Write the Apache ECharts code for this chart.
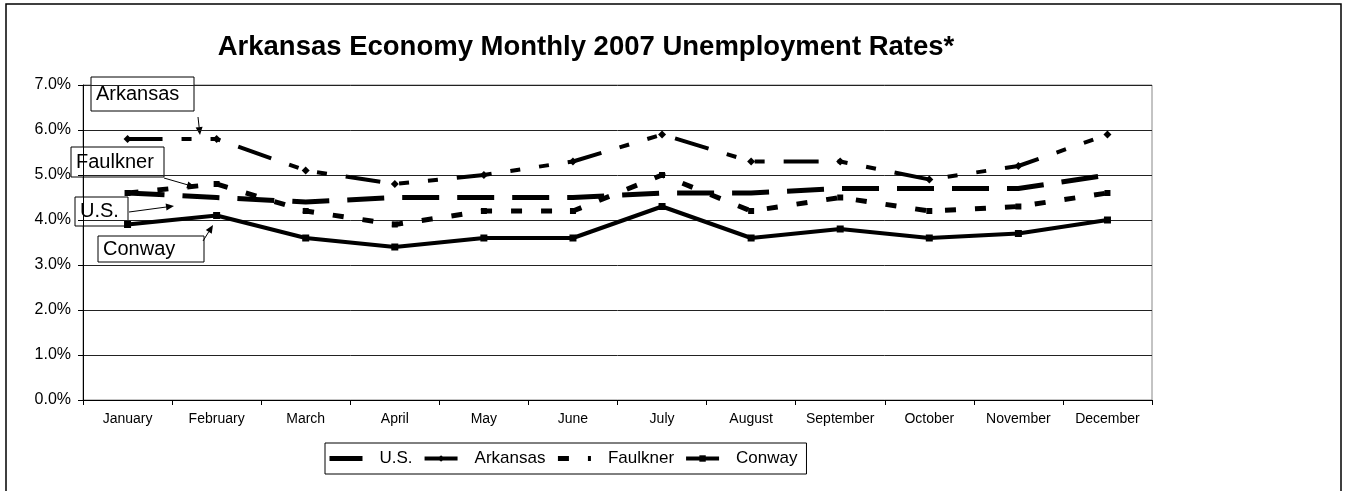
<!DOCTYPE html>
<html lang="en">

<head>
  <meta charset="UTF-8">
  <script src="https://cdn.jsdelivr.net/npm/echarts@6/dist/echarts.min.js"></script>
  <title>Arkansas Economy</title>
  <style>
    html, body { margin: 0; padding: 0; background: #fff; }
    .container { width: 1349px; height: 491px; }
  </style>
</head>

<body>
  <div class="container"></div>

  <script>
    const months = ["January", "February", "March", "April", "May", "June", "July",
      "August", "September", "October", "November", "December"];
    const usRate = [4.6, 4.5, 4.4, 4.5, 4.5, 4.5, 4.6, 4.6, 4.7, 4.7, 4.7, 5.0];
    const arkansasRate = [5.8, 5.8, 5.1, 4.8, 5.0, 5.3, 5.9, 5.3, 5.3, 4.9, 5.2, 5.9];
    const faulknerRate = [4.6, 4.8, 4.2, 3.9, 4.2, 4.2, 5.0, 4.2, 4.5, 4.2, 4.3, 4.6];
    const conwayRate = [3.9, 4.1, 3.6, 3.4, 3.6, 3.6, 4.3, 3.6, 3.8, 3.6, 3.7, 4.0];

    const font = "Liberation Sans";

    // callout box with a text in it
    const box = (x, y, w, h, text) => ({
      type: 'group',
      children: [
        { type: 'rect', shape: { x: x, y: y, width: w, height: h }, style: { fill: '#fff', stroke: '#000', lineWidth: 1 } },
        { type: 'text', x: x + 5, y: y + h / 2, style: { text: text, fontFamily: font, fontSize: 20, fill: '#000', verticalAlign: 'middle' } }
      ],
      z: 100
    });

    // thin line with arrow head at (x2, y2)
    const arrow = (x1, y1, x2, y2) => {
      const a = Math.atan2(y2 - y1, x2 - x1);
      const len = 8, half = 3.5;
      const bx = x2 - len * Math.cos(a), by = y2 - len * Math.sin(a);
      return {
        type: 'group',
        z: 100,
        children: [
          { type: 'line', shape: { x1: x1, y1: y1, x2: bx, y2: by }, style: { stroke: '#000', lineWidth: 1 } },
          {
            type: 'polygon',
            shape: {
              points: [[x2, y2],
              [bx + half * Math.sin(a), by - half * Math.cos(a)],
              [bx - half * Math.sin(a), by + half * Math.cos(a)]]
            },
            style: { fill: '#000' }
          }
        ]
      };
    };

    const chart = echarts.init(document.querySelector(".container"));
    const options = {
      backgroundColor: '#fff',
      animation: false,
      title: {
        text: "Arkansas Economy Monthly 2007 Unemployment Rates*",
        left: 581,
        textAlign: 'center',
        top: 28,
        textStyle: { fontFamily: font, fontSize: 27.5, fontWeight: 'bold', color: '#000' }
      },
      grid: {
        left: 83, top: 85, right: 197, bottom: 91,
        show: true, borderColor: '#888', borderWidth: 1
      },
      legend: {
        data: [
          { name: "U.S.", itemStyle: { opacity: 0 } },
          { name: "Arkansas" },
          { name: "Faulkner", itemStyle: { opacity: 0 } },
          { name: "Conway" }
        ],
        left: 325,
        top: 443,
        padding: [7, 9, 7, 2],
        itemGap: 10,
        itemWidth: 33,
        itemHeight: 8,
        borderColor: '#000',
        borderWidth: 1,
        lineStyle: { width: 'inherit' },
        textStyle: { fontFamily: font, fontSize: 17, color: '#000', padding: [0, 0, 0, 12] }
      },
      xAxis: {
        type: 'category',
        data: months,
        boundaryGap: true,
        axisLine: { lineStyle: { color: '#000', width: 1 } },
        axisTick: { show: true, length: 5, lineStyle: { color: '#000' } },
        axisLabel: { fontFamily: font, fontSize: 14, color: '#000', margin: 12, interval: 0 },
        splitLine: { show: false }
      },
      yAxis: {
        type: 'value',
        min: 0,
        max: 7,
        interval: 1,
        axisLine: { show: true, lineStyle: { color: '#000', width: 1 } },
        axisTick: { show: true, length: 5, lineStyle: { color: '#000' } },
        axisLabel: {
          fontFamily: font, fontSize: 16, color: '#000', margin: 12,
          formatter: (v) => v.toFixed(1) + '%'
        },
        splitLine: { show: true, lineStyle: { color: '#222', width: 1 } }
      },
      series: [
        {
          name: "U.S.",
          type: 'line',
          data: usRate,
          symbol: 'none',
          lineStyle: { color: '#000', width: 5, type: [37, 18] },
          itemStyle: { color: '#000' }
        },
        {
          name: "Arkansas",
          type: 'line',
          data: arkansasRate,
          symbol: 'diamond',
          symbolSize: 8,
          lineStyle: { color: '#000', width: 4, type: [35, 19, 10, 19, 10, 19] },
          itemStyle: { color: '#000' }
        },
        {
          name: "Faulkner",
          type: 'line',
          data: faulknerRate,
          symbol: 'rect',
          symbolSize: 6,
          lineStyle: { color: '#000', width: 5, type: [11, 19] },
          itemStyle: { color: '#000' }
        },
        {
          name: "Conway",
          type: 'line',
          data: conwayRate,
          symbol: 'rect',
          symbolSize: 7,
          lineStyle: { color: '#000', width: 4 },
          itemStyle: { color: '#000' }
        }
      ],
      graphic: [
        {
          type: 'rect',
          shape: { x: 6, y: 4, width: 1335, height: 500 },
          style: { fill: 'none', stroke: '#000', lineWidth: 1.5 },
          z: -10, silent: true
        },
        box(91, 77, 103, 34, "Arkansas"),
        box(71, 147, 93, 30, "Faulkner"),
        box(75, 197, 53, 29, "U.S."),
        box(98, 236, 106, 26, "Conway"),
        arrow(198, 117, 200, 135),
        arrow(164, 178, 195, 187),
        arrow(129, 212, 174, 206),
        arrow(203, 241, 213, 225)
      ]
    };

    chart.setOption(options);
  </script>
</body>

</html>
